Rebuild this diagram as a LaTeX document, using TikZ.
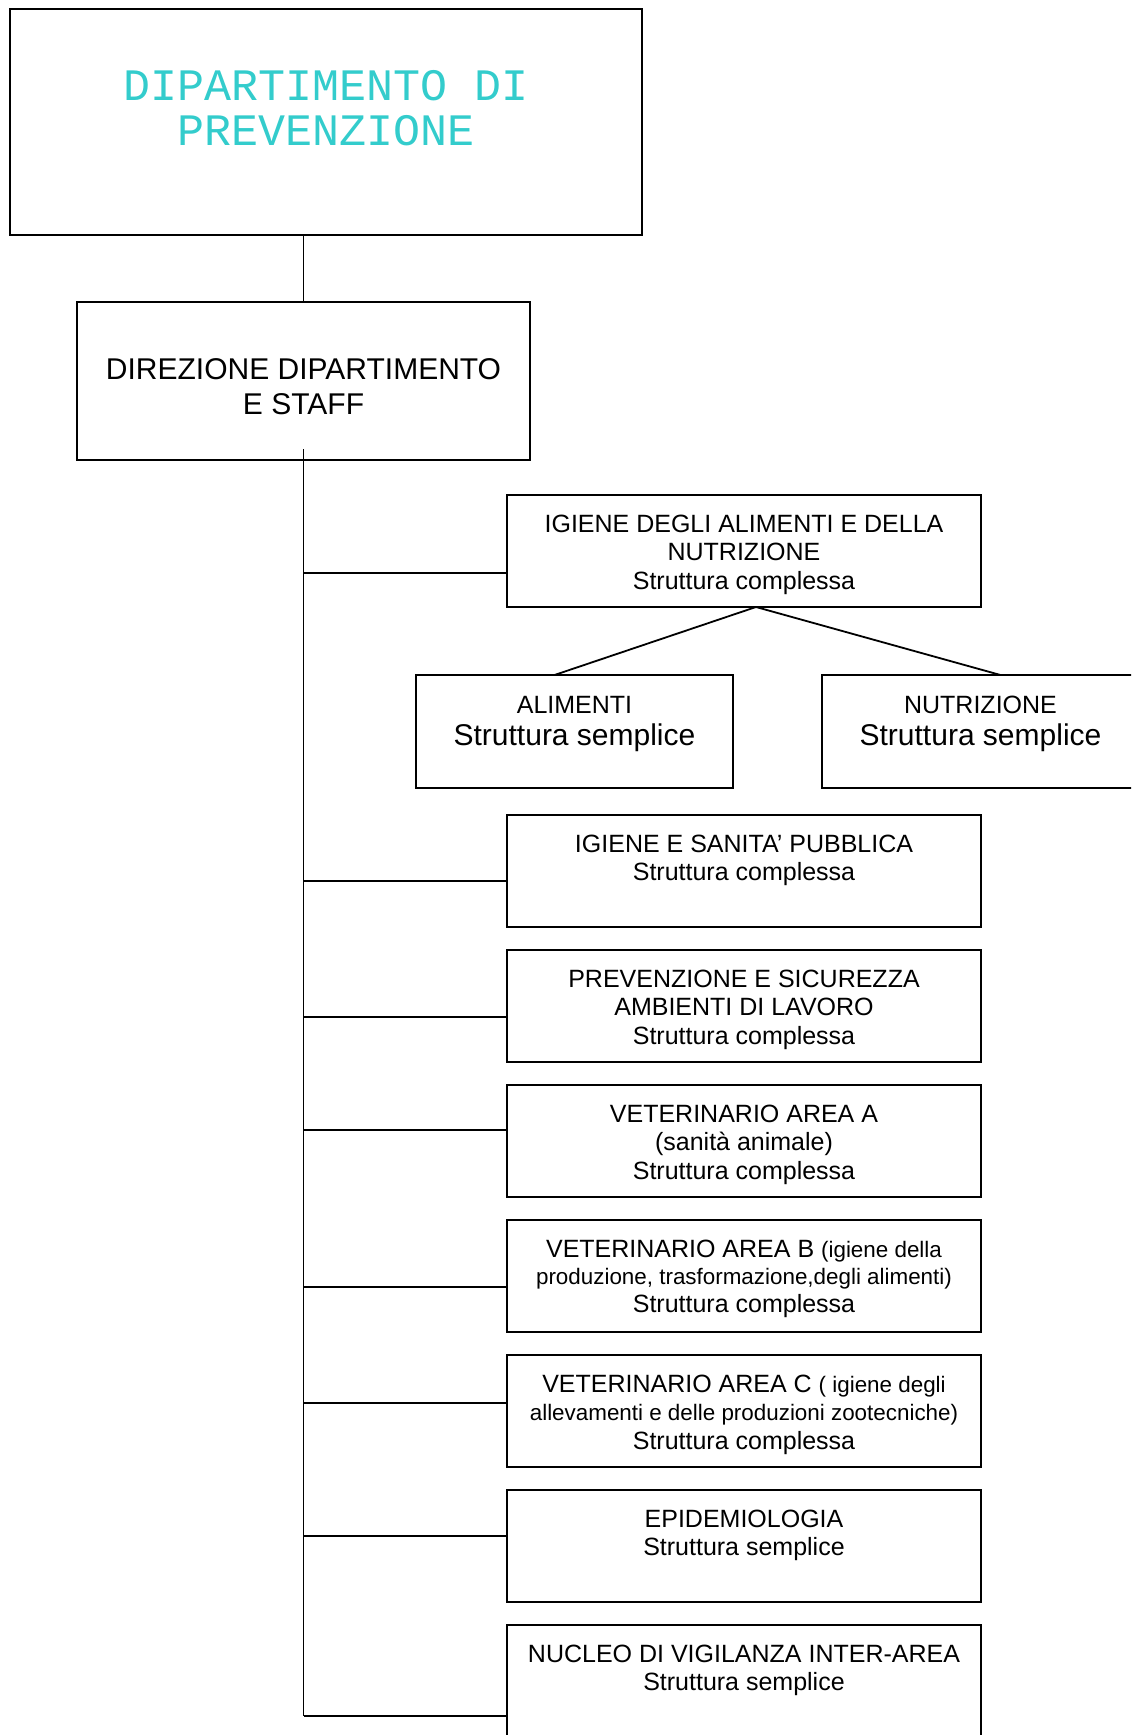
\documentclass[tikz,border=0pt]{standalone}
\usepackage{fontspec}
\setmainfont{Liberation Sans}
\newfontfamily\monofont{Liberation Mono}
\usetikzlibrary{positioning,calc}
\definecolor{titlecyan}{RGB}{51,204,204}
\newcommand{\smalltext}{\fontsize{11.2}{13.8}\selectfont}

\begin{document}
\begin{tikzpicture}[x=0.5pt,y=-0.5pt]
\tikzset{
    unit/.style={rectangle, draw=black, line width=0.9pt, anchor=north west, inner xsep=0pt, inner ysep=0pt, outer sep=0pt, align=flush center, font=\fontsize{12.5}{14.3}\selectfont, text width=237pt, text height=18.5pt, text depth=37.5pt},
    subunit/.style={unit, text width=158.5pt, text height=19pt, font=\fontsize{12.5}{16}\selectfont},
    link/.style={line width=0.9pt}
}
\useasboundingbox (0,0) rectangle (1131,1735);
\clip (0,0) rectangle (1131,1735);

\node[unit, text width=316pt, text height=45.5pt, text depth=67.5pt, font=\monofont\fontsize{22.5}{22.5}\selectfont, text=titlecyan] (dept) at (10,9) {DIPARTIMENTO DI\\PREVENZIONE};
\node[unit, text width=226.5pt, text height=38.5pt, text depth=40.5pt, font=\fontsize{15}{17.5}\selectfont] (dir) at (77,302) {DIREZIONE DIPARTIMENTO\\E STAFF};

\node[unit] (ian) at (507,495) {IGIENE DEGLI ALIMENTI E DELLA\\NUTRIZIONE\\Struttura complessa};
\node[subunit] (ali) at (416,675) {ALIMENTI\\{\fontsize{15}{16}\selectfont Struttura semplice}};
\node[subunit] (nut) at (822,675) {NUTRIZIONE\\{\fontsize{15}{16}\selectfont Struttura semplice}};

\node[unit] (iesp) at (507,815) {IGIENE E SANITA’ PUBBLICA\\Struttura complessa};
\node[unit, below=11.5pt of iesp] (prev) {PREVENZIONE E SICUREZZA\\AMBIENTI DI LAVORO\\Struttura complessa};
\node[unit, below=11.5pt of prev] (veta) {VETERINARIO AREA A\\(sanità animale)\\Struttura complessa};
\node[unit, below=11.5pt of veta, font=\fontsize{12.5}{13.8}\selectfont] (vetb) {VETERINARIO AREA B {\smalltext(igiene della}\\{\smalltext produzione, trasformazione,degli alimenti)}\\Struttura complessa};
\node[unit, below=11.5pt of vetb] (vetc) {VETERINARIO AREA C {\smalltext( igiene degli}\\{\smalltext allevamenti e delle produzioni zootecniche)}\\Struttura complessa};
\node[unit, below=11.5pt of vetc] (epid) {EPIDEMIOLOGIA\\Struttura semplice};
\node[unit, below=11.5pt of epid] (nucleo) {NUCLEO DI VIGILANZA INTER-AREA\\Struttura semplice};

% connectors
\draw[link] (dir.north) -- (dir.north |- dept.south);
\coordinate (trunk) at ([yshift=5.5pt]dir.south);
\coordinate (trunkend) at ($(nucleo.north west)+(0,91)$);
\draw[link] (trunk) -- (trunk |- trunkend);
\foreach \n/\dy in {ian/78, iesp/66, prev/67, veta/45, vetb/67, vetc/48, epid/46, nucleo/91}
    \draw[link] ($(\n.north west)+(0,\dy)$) coordinate (tip) -- (tip -| trunk);

\draw[link] ([xshift=-10pt]ali.north) -- ([xshift=6pt]ian.south) -- ([xshift=10pt]nut.north);
\end{tikzpicture}
\end{document}
